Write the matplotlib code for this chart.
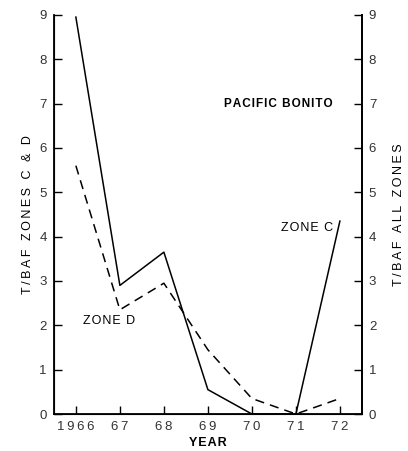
import matplotlib
matplotlib.use("Agg")
import matplotlib.pyplot as plt

plt.rcParams['font.family'] = ['Liberation Sans', 'DejaVu Sans']

years = [1966, 1967, 1968, 1969, 1970, 1971, 1972]
year_labels = ['1966', '67', '68', '69', '70', '71', '72']
zone_c = [8.95, 2.9, 3.65, 0.55, 0.0, 0.0, 4.35]
zone_d = [5.6, 2.35, 2.95, 1.45, 0.35, 0.0, 0.35]
yticks = list(range(10))


def spaced(s, sep='\u200a'):
    return sep.join(s)


fig = plt.figure(figsize=(4.08, 4.51), dpi=100)
ax = fig.add_axes([0.132, 0.082, 0.755, 0.885])

ax.plot(years, zone_c, color='black', lw=1.1)
ax.plot(years, zone_d, color='black', lw=1.1, ls=(0, (6, 4)))

ax.set_xlim(1965.5, 1972.5)
ax.set_ylim(0, 9)
ax.set_xticks(years)
ax.set_xticklabels([spaced(t, '\u2009') for t in year_labels])
ax.set_yticks(yticks)
ax.spines['top'].set_visible(False)
for s in ['left', 'right', 'bottom']:
    ax.spines[s].set_linewidth(1.3)
ax.tick_params(direction='in', length=6, width=1, labelsize=9.5, pad=5,
               labelcolor='#333333')

ax2 = ax.twinx()
ax2.set_ylim(0, 9)
ax2.set_yticks(yticks)
ax2.spines['top'].set_visible(False)
ax2.spines['right'].set_linewidth(1.3)
ax2.tick_params(direction='in', length=6, width=1, labelsize=9.5, pad=5,
                labelcolor='#333333')

ax.set_ylabel(spaced('T/BAF ZONES C & D', '\u2009'), fontsize=9, labelpad=4)
ax2.set_ylabel(spaced('T/BAF ALL ZONES', '\u2009'), fontsize=9, labelpad=12)
ax.set_xlabel(spaced('YEAR'), fontsize=9, fontweight='bold', labelpad=3)

ax.text(1970.6, 7.0, spaced('PACIFIC BONITO'), fontsize=8.5, fontweight='bold',
        ha='center', va='center')
ax.text(1971.85, 4.2, spaced('ZONE C'), fontsize=9, ha='right', va='center')
ax.text(1966.75, 2.1, spaced('ZONE D'), fontsize=9, ha='center', va='center')

fig.savefig('out.png', dpi=100)
